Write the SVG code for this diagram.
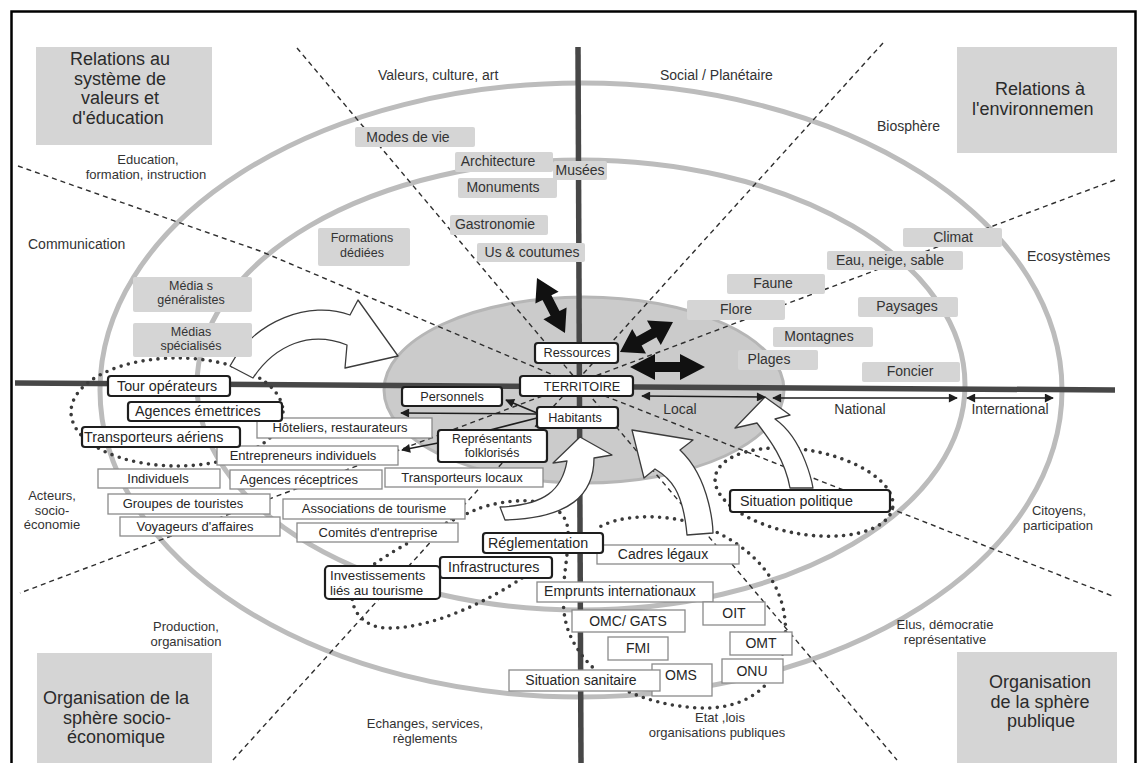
<svg xmlns="http://www.w3.org/2000/svg" width="1137" height="763" viewBox="0 0 1137 763">
<defs>
<style>
text{font-family:"Liberation Sans",Arial,Helvetica,sans-serif;fill:#262626}
.big{font-size:18px;fill:#2b2b2b}
.lab{font-size:14px;fill:#333}
.lab2{font-size:13px;fill:#333;text-anchor:middle}
.m{text-anchor:middle}
.g{fill:#d5d5d5}
.gt{font-size:14px;fill:#333;text-anchor:middle}
.gt2{font-size:12.5px;fill:#333;text-anchor:middle}
.w{fill:#fff;stroke:#8a8a8a;stroke-width:1.3}
.wt{font-size:14px;text-anchor:middle}
.wt13{font-size:13px;text-anchor:middle}
.k{fill:#fff;stroke:#1e1e1e;stroke-width:2.2}
.kt{font-size:12.7px;text-anchor:middle}
.kt2{font-size:12.3px;text-anchor:middle}
.kt14{font-size:14.3px}
.kt13{font-size:13.3px}
.ring{fill:none;stroke:#bcbcbc;stroke-width:5}
.core{fill:#cbcbcb;stroke:#b6b6b6;stroke-width:3}
.dash{fill:none;stroke:#2e2e2e;stroke-width:1.4;stroke-dasharray:5 4}
.dots{fill:none;stroke:#3a3a3a;stroke-width:3.6;stroke-dasharray:0 7.5;stroke-linecap:round}
.axis{stroke:#474747;stroke-width:5.5}
.hollow{fill:#fff;stroke:#3c3c3c;stroke-width:1.3;stroke-linejoin:round}
.bold{fill:#111}
.sc{stroke:#1e1e1e;stroke-width:1.5;marker-start:url(#ah);marker-end:url(#ah)}
.con{stroke:#1e1e1e;stroke-width:1.6;fill:none}
</style>
<marker id="ah" viewBox="0 0 10 10" refX="9" refY="5" markerWidth="12" markerHeight="9" orient="auto-start-reverse" markerUnits="userSpaceOnUse">
<path d="M0,0 L10,5 L0,10 Z" fill="#1e1e1e"/>
</marker>
<marker id="ah1" viewBox="0 0 10 10" refX="9" refY="5" markerWidth="12" markerHeight="9" orient="auto" markerUnits="userSpaceOnUse">
<path d="M0,0 L10,5 L0,10 Z" fill="#1e1e1e"/>
</marker>
</defs>
<rect width="1137" height="763" fill="#fff"/>
<rect x="11.5" y="11.5" width="1124" height="770" fill="none" stroke="#000" stroke-width="2.5"/>

<g id="background">
<ellipse class="ring" cx="581" cy="390" rx="481" ry="307"/>
<ellipse class="ring" cx="581" cy="385" rx="384" ry="225"/>
<ellipse class="core" cx="584" cy="390" rx="200" ry="93"/>
</g>

<g id="sectors">
<path class="dash" d="M297 48 L897 760"/>
<path class="dash" d="M883 43 L233 760"/>
<path class="dash" d="M18 166 L260 251 L577 385 L1115 597"/>
<path class="dash" d="M1115 180 L20 593"/>
</g>

<g id="axes">
<line class="axis" x1="578" y1="47" x2="581" y2="763"/>
<line class="axis" x1="15" y1="383" x2="1115" y2="390"/>
</g>

<g id="dotted-groups">
<ellipse class="dots" cx="177" cy="412" rx="106" ry="54"/>
<ellipse class="dots" cx="804" cy="492" rx="90" ry="42" transform="rotate(10 804 492)"/>
<path class="dots" d="M522 578 C490 600 430 630 385 628 C350 625 345 590 360 575 C390 550 440 525 480 508 C520 495 565 498 568 530 C570 560 555 600 570 635 C590 680 640 705 700 708 C760 710 790 670 785 620 C780 570 740 540 700 525 C660 512 615 515 595 530"/>
</g>

<g id="hollow-arrows">
<path class="hollow" d="M230 366 C255 320 310 300 350 315 L358 300 L398 356 L345 368 L347 345 C310 330 275 345 253 378 Z"/>
<path class="hollow" d="M580 437 L612 455 L594 458 C594 495 570 518 505 520 L500 507 C545 505 562 490 567 461 L553 463 Z"/>
<path class="hollow" d="M632 430 L693 440 L680 450 C712 480 713 533 713 533 L687 535 C683 490 670 478 655 469 L644 478 Z"/>
<path class="hollow" d="M765 397 L790 415 L775 419 C805 440 813 488 813 488 L790 488 C785 460 770 440 757 423 L735 428 Z"/>
</g>

<g id="connectors">
<line class="con" x1="537" y1="413" x2="506" y2="400" marker-end="url(#ah1)"/>
<line class="con" x1="537" y1="414" x2="401" y2="413" marker-end="url(#ah1)"/>
<line class="con" x1="537" y1="418" x2="490" y2="430"/>
<line class="con" x1="438" y1="443" x2="402" y2="450" marker-end="url(#ah1)"/>
<line class="sc" x1="642" y1="396" x2="765" y2="397"/>
<line class="sc" x1="773" y1="398" x2="957" y2="398"/>
<line class="sc" x1="967" y1="398" x2="1053" y2="398"/>
<polygon class="bold" points="537,278 558.6,291.7 551.4,295.3 559.5,311.1 566.6,307.5 565,333 543.4,319.3 550.6,315.7 542.5,299.9 535.4,303.5"/>
<polygon class="bold" points="620,352 632.2,329 636.6,336.8 651.4,328.5 647,320.6 673,322 660.8,345 656.4,337.2 641.6,345.5 646,353.4"/>
<polygon class="bold" points="630,367 655,354 655,362 680,362 680,354 705,367 680,380 680,372 655,372 655,380"/>
</g>

<g id="quadrant-titles">
<g id="q-valeurs"><rect class="g" x="36" y="47" width="176" height="98"/>
<text class="big m" x="120" y="65">Relations au</text><text class="big m" x="120" y="84.5">système de</text><text class="big m" x="120" y="104">valeurs et</text><text class="big m" x="118" y="123.5">d'éducation</text></g>
<g id="q-environnement"><rect class="g" x="957" y="47" width="160" height="106"/>
<text class="big" x="995" y="95">Relations à</text><text class="big" x="972" y="114.5">l'environnemen</text></g>
<g id="q-socioeco"><rect class="g" x="37" y="653" width="175" height="110"/>
<text class="big m" x="116" y="704">Organisation de la</text><text class="big m" x="117" y="723.5">sphère socio-</text><text class="big m" x="116" y="743">économique</text></g>
<g id="q-publique"><rect class="g" x="957" y="652" width="160" height="111"/>
<text class="big m" x="1040" y="688">Organisation</text><text class="big m" x="1040" y="707.5">de la sphère</text><text class="big m" x="1041" y="727">publique</text></g>
</g>

<g id="sector-labels">
<text class="lab" x="378" y="80">Valeurs, culture, art</text>
<text class="lab" x="660" y="80">Social / Planétaire</text>
<text class="lab" x="877" y="131">Biosphère</text>
<text class="lab2" x="148" y="164">Education,</text>
<text class="lab2" x="146" y="178.5">formation, instruction</text>
<text class="lab" x="28" y="249">Communication</text>
<text class="lab" x="1027" y="261">Ecosystèmes</text>
<text class="lab2" x="52" y="500">Acteurs,</text>
<text class="lab2" x="52" y="514.5">socio-</text>
<text class="lab2" x="52" y="529">économie</text>
<text class="lab2" x="186" y="631">Production,</text>
<text class="lab2" x="186" y="645.5">organisation</text>
<text class="lab2" x="425" y="728">Echanges, services,</text>
<text class="lab2" x="425" y="742.5">règlements</text>
<text class="lab2" x="720" y="722">Etat ,lois</text>
<text class="lab2" x="717" y="736.5">organisations  publiques</text>
<text class="lab2" x="1059" y="515">Citoyens,</text>
<text class="lab2" x="1058" y="529.5">participation</text>
<text class="lab2" x="945" y="629">Elus, démocratie</text>
<text class="lab2" x="945" y="643.5">représentative</text>
<text class="lab m" x="680" y="414">Local</text>
<text class="lab m" x="860" y="414">National</text>
<text class="lab m" x="1010" y="414">International</text>
</g>

<g id="resources">
<g id="n-modes"><rect class="g" x="355" y="127" width="120" height="20" rx="2"/><text class="gt" x="408" y="142">Modes de vie</text></g>
<g id="n-architecture"><rect class="g" x="455" y="152" width="98" height="20" rx="2"/><text class="gt" x="498" y="166">Architecture</text></g>
<g id="n-musees"><rect class="g" x="553" y="161" width="54" height="19" rx="2"/><text class="gt" x="580" y="175">Musées</text></g>
<g id="n-monuments"><rect class="g" x="458" y="178" width="99" height="20" rx="2"/><text class="gt" x="503" y="192">Monuments</text></g>
<g id="n-gastronomie"><rect class="g" x="450" y="215" width="98" height="20" rx="2"/><text class="gt" x="495" y="229">Gastronomie</text></g>
<g id="n-us"><rect class="g" x="477" y="243" width="108" height="19" rx="2"/><text class="gt" x="532" y="257">Us &amp; coutumes</text></g>
<g id="n-formations"><rect class="g" x="318" y="228" width="92" height="38" rx="2"/><text class="gt2" x="362" y="242">Formations</text><text class="gt2" x="362" y="256.5">dédiées</text></g>
<g id="n-medias-gen"><rect class="g" x="133" y="277" width="119" height="35" rx="2"/><text class="gt2" x="191" y="290">Média s</text><text class="gt2" x="191" y="304">généralistes</text></g>
<g id="n-medias-spe"><rect class="g" x="133" y="323" width="119" height="34" rx="2"/><text class="gt2" x="191" y="335.5">Médias</text><text class="gt2" x="191" y="349.5">spécialisés</text></g>
<g id="n-climat"><rect class="g" x="903" y="228" width="99" height="19" rx="2"/><text class="gt" x="953" y="242">Climat</text></g>
<g id="n-eau"><rect class="g" x="827" y="251" width="136" height="19" rx="2"/><text class="gt" x="890" y="265">Eau, neige, sable</text></g>
<g id="n-faune"><rect class="g" x="727" y="274" width="98" height="20" rx="2"/><text class="gt" x="773" y="288">Faune</text></g>
<g id="n-flore"><rect class="g" x="687" y="300" width="98" height="20" rx="2"/><text class="gt" x="736" y="314">Flore</text></g>
<g id="n-paysages"><rect class="g" x="858" y="297" width="100" height="20" rx="2"/><text class="gt" x="907" y="311">Paysages</text></g>
<g id="n-montagnes"><rect class="g" x="773" y="327" width="100" height="20" rx="2"/><text class="gt" x="819" y="341">Montagnes</text></g>
<g id="n-plages"><rect class="g" x="738" y="350" width="80" height="20" rx="2"/><text class="gt" x="769" y="364">Plages</text></g>
<g id="n-foncier"><rect class="g" x="862" y="362" width="98" height="20" rx="2"/><text class="gt" x="910" y="376">Foncier</text></g>
</g>

<g id="actors">
<g id="n-hoteliers"><rect class="w" x="257" y="418" width="175" height="20"/><text class="wt13" x="340" y="432">Hôteliers, restaurateurs</text></g>
<g id="n-entrepreneurs"><rect class="w" x="217" y="446" width="181" height="19"/><text class="wt13" x="303" y="460">Entrepreneurs individuels</text></g>
<g id="n-individuels"><rect class="w" x="98" y="469" width="122" height="19"/><text class="wt13" x="158" y="483">Individuels</text></g>
<g id="n-agences-rec"><rect class="w" x="230" y="470" width="152" height="19"/><text class="wt13" x="299" y="484">Agences réceptrices</text></g>
<g id="n-groupes"><rect class="w" x="108" y="494" width="162" height="20"/><text class="wt13" x="183" y="508">Groupes de touristes</text></g>
<g id="n-associations"><rect class="w" x="283" y="499" width="182" height="20"/><text class="wt13" x="374" y="513">Associations de tourisme</text></g>
<g id="n-voyageurs"><rect class="w" x="120" y="517" width="160" height="19"/><text class="wt13" x="195" y="531">Voyageurs d'affaires</text></g>
<g id="n-comites"><rect class="w" x="297" y="523" width="161" height="19"/><text class="wt13" x="378" y="537">Comités d'entreprise</text></g>
<g id="n-transp-locaux"><rect class="w" x="385" y="468" width="158" height="19"/><text class="wt13" x="462" y="482">Transporteurs locaux</text></g>
<g id="n-cadres"><rect class="w" x="597" y="545" width="142" height="19"/><text class="wt" x="663" y="559">Cadres légaux</text></g>
<g id="n-emprunts"><rect class="w" x="537" y="582" width="176" height="20"/><text class="wt" x="620" y="596">Emprunts internationaux</text></g>
<g id="n-oit"><rect class="w" x="703" y="602" width="62" height="23"/><text class="wt" x="734" y="618">OIT</text></g>
<g id="n-omc"><rect class="w" x="572" y="610" width="113" height="22"/><text class="wt" x="628" y="626">OMC/ GATS</text></g>
<g id="n-omt"><rect class="w" x="730" y="632" width="62" height="23"/><text class="wt" x="761" y="648">OMT</text></g>
<g id="n-fmi"><rect class="w" x="608" y="637" width="60" height="23"/><text class="wt" x="638" y="653">FMI</text></g>
<g id="n-onu"><rect class="w" x="722" y="659" width="61" height="24"/><text class="wt" x="752" y="676">ONU</text></g>
<g id="n-oms"><rect class="w" x="652" y="664" width="60" height="32"/><text class="wt" x="681" y="680">OMS</text></g>
<g id="n-sanitaire"><rect class="w" x="509" y="670" width="151" height="21"/><text class="wt" x="581" y="685">Situation sanitaire</text></g>
</g>

<g id="key-nodes">
<g id="n-ressources"><rect class="k" x="535" y="343" width="83" height="20" rx="3"/><text class="kt" x="577" y="357">Ressources</text></g>
<g id="n-territoire"><rect class="k" x="520" y="376" width="113" height="20" rx="3"/><text class="kt" x="582" y="391">TERRITOIRE</text></g>
<g id="n-habitants"><rect class="k" x="537" y="407" width="81" height="21" rx="3"/><text class="kt" x="575" y="422">Habitants</text></g>
<g id="n-personnels"><rect class="k" x="402" y="387" width="100" height="19" rx="3"/><text class="kt" x="452" y="401">Personnels</text></g>
<g id="n-representants"><rect class="k" x="438" y="430" width="109" height="32" rx="3"/><text class="kt2" x="492" y="443">Représentants</text><text class="kt2" x="492" y="457">folklorisés</text></g>
<g id="n-tour-op"><rect class="k" x="108" y="376" width="122" height="20" rx="3"/><text class="kt14" x="117" y="391">Tour opérateurs</text></g>
<g id="n-agences-em"><rect class="k" x="128" y="402" width="154" height="19" rx="3"/><text class="kt14" x="135" y="416">Agences émettrices</text></g>
<g id="n-transp-aeriens"><rect class="k" x="82" y="427" width="158" height="20" rx="3"/><text class="kt14" x="84" y="442">Transporteurs aériens</text></g>
<g id="n-reglementation"><rect class="k" x="483" y="533" width="120" height="20" rx="3"/><text class="kt14" x="488" y="548">Réglementation</text></g>
<g id="n-infrastructures"><rect class="k" x="440" y="557" width="112" height="21" rx="3"/><text class="kt14" x="448" y="572">Infrastructures</text></g>
<g id="n-investissements"><rect class="k" x="325" y="566" width="115" height="33" rx="4"/><text class="kt13" x="330" y="580">Investissements</text><text class="kt13" x="330" y="594.5">liés au tourisme</text></g>
<g id="n-situation-pol"><rect class="k" x="730" y="490" width="160" height="22" rx="3"/><text class="kt14" x="740" y="506">Situation politique</text></g>
</g>
</svg>
